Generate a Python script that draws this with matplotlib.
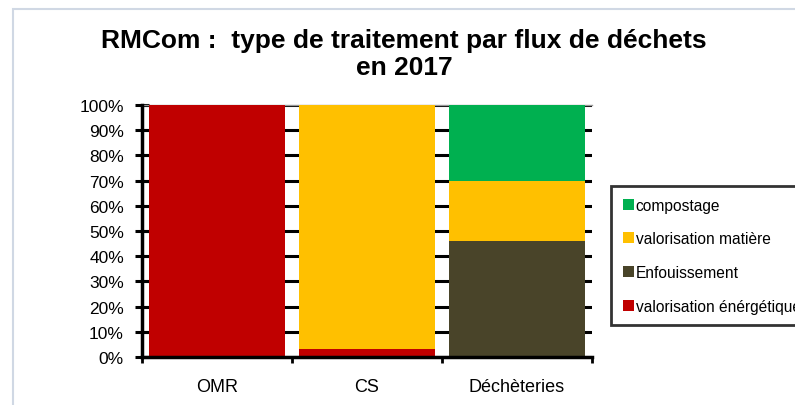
import matplotlib
matplotlib.use("Agg")
import matplotlib.pyplot as plt
import matplotlib.patches as mpatches
import numpy as np

plt.rcParams['font.family'] = ['Liberation Sans', 'DejaVu Sans']

categories = ["OMR", "CS", "Déchèteries"]
series_names = ["valorisation énérgétique", "Enfouissement", "valorisation matière", "compostage"]
values = {
    "valorisation énérgétique": [100, 3, 0],
    "Enfouissement": [0, 0, 46],
    "valorisation matière": [0, 97, 24],
    "compostage": [0, 0, 30],
}
colors = {
    "valorisation énérgétique": "#C00000",
    "Enfouissement": "#494429",
    "valorisation matière": "#FFC000",
    "compostage": "#00B050",
}
yticks = list(range(0, 101, 10))
title = "RMCom :  type de traitement par flux de déchets\nen 2017"

fig = plt.figure(figsize=(7.95, 4.06), dpi=100)
W, H = 795, 406
ax = fig.add_axes([142 / W, 1 - 358 / H, 450 / W, 252 / H])

x = np.arange(1, len(categories) + 1)
bottom = np.zeros(len(categories))
handles = {}
for name in series_names:
    v = np.array(values[name], dtype=float)
    b = ax.bar(x, v, bottom=bottom, width=0.91, color=colors[name], zorder=3, label=name)
    handles[name] = b
    bottom += v

ax.set_xlim(0.5, 3.5)
ax.set_ylim(0, 100)
ax.set_yticks(yticks)
ax.set_yticklabels([f"{t}%" for t in yticks], fontsize=12.5)
ax.tick_params(axis='y', direction='inout', length=10, width=2.2, pad=8)
ax.yaxis.grid(True, color='black', linewidth=2.2, zorder=0)
ax.set_axisbelow(True)

ax.set_xticks([0.5, 1.5, 2.5, 3.5])
ax.set_xticklabels([])
ax.tick_params(axis='x', which='major', direction='out', length=4, width=2)
ax.set_xticks(x, minor=True)
ax.set_xticklabels(categories, minor=True, fontsize=13)
ax.tick_params(axis='x', which='minor', length=0, pad=15)

ax.spines['left'].set_linewidth(2.5)
ax.spines['bottom'].set_linewidth(2.5)
ax.spines['right'].set_visible(False)
ax.spines['top'].set_color('#999999')
ax.spines['top'].set_linewidth(1)
ax.spines['left'].set_zorder(4)
ax.spines['bottom'].set_zorder(4)

fig.text(404 / W, 1 - 75 / H, title, ha='center', va='baseline', fontsize=19,
         fontweight='bold', linespacing=1.15)

order = ["compostage", "valorisation matière", "Enfouissement", "valorisation énérgétique"]
leg = fig.legend([handles[n] for n in order], order, loc='upper left',
                 bbox_to_anchor=(611 / W, 1 - 187 / H), fontsize=11.2,
                 frameon=True, fancybox=False, edgecolor='black',
                 handlelength=0.72, handleheight=0.72, handletextpad=0.12,
                 labelspacing=1.2, borderpad=0.75, borderaxespad=0)
leg.get_frame().set_linewidth(2)

border = mpatches.Rectangle((13 / W, -0.1), 1.2, 1 - 10 / H + 0.1, transform=fig.transFigure,
                            fill=False, edgecolor='#D0D8E4', linewidth=1.5, clip_on=False)
fig.patches.append(border)

fig.savefig("out.png", dpi=100)
